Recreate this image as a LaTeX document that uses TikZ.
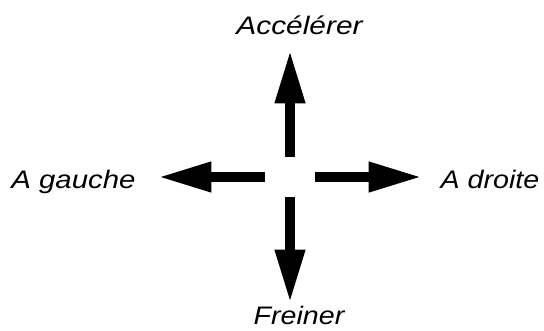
\documentclass[tikz,border=0pt]{standalone}
\usepackage{fontspec}
\setmainfont{Liberation Sans}
\usetikzlibrary{arrows.meta}

\begin{document}
\begin{tikzpicture}[x=0.75pt, y=-0.75pt,
    label/.style={font=\itshape\fontsize{19}{22}\selectfont, anchor=base, inner sep=0pt},
    move/.style={line width=7.5pt, -{Triangle[length=40pt, width=21pt]}}]
    \useasboundingbox (0,0) rectangle (544,330);

    % Centre (empty gap between the arrows)
    \node[minimum width=37.5pt, minimum height=30pt, inner sep=0pt] (c) at (290,177) {};

    % Arrow tips
    \coordinate (up) at (290,50);
    \coordinate (down) at (290,303);
    \coordinate (left) at (158,177);
    \coordinate (right) at (422,177);

    % Labels
    \node[label] (acc) at (299.5,34) {\scalebox{1.18}[1]{Accélérer}};
    \node[label] (gau) at (73.5,188) {\scalebox{1.16}[1]{A gauche}};
    \node[label] (dro) at (490,188) {\scalebox{1.13}[1]{A droite}};
    \node[label] (fre) at (299,324) {\scalebox{1.13}[1]{Freiner}};

    % Arrows
    \draw[move] (c) -- (up);
    \draw[move] (c) -- (down);
    \draw[move] (c) -- (left);
    \draw[move] (c) -- (right);
\end{tikzpicture}
\end{document}
